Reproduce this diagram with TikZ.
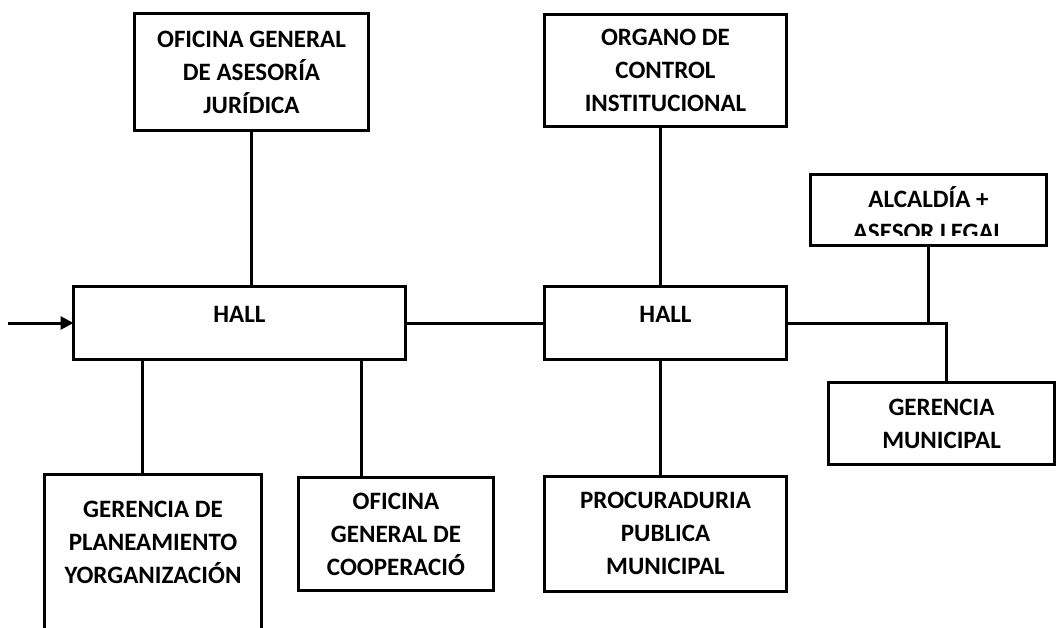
\documentclass[tikz,border=0pt]{standalone}
\usepackage{fontspec}
\setmainfont{Carlito}
\usetikzlibrary{arrows.meta}
\begin{document}
\begin{tikzpicture}[x=1pt,y=-1pt,
  every node/.style={inner sep=0pt,outer sep=0pt},
  boxstyle/.style={draw,line width=3pt,align=center,
    font=\fontsize{25}{33}\selectfont\bfseries},
  plain/.style={align=center,font=\fontsize{25}{33}\selectfont\bfseries},
  conn/.style={line width=3pt,line join=miter}]
\useasboundingbox[fill=white] (0,0) rectangle (1056,627);
% boxes
\node[boxstyle,minimum width=234pt,minimum height=117pt] (ofi) at (251.5,72)
  {OFICINA GENERAL\\DE ASESORÍA\\JURÍDICA};
\node[boxstyle,minimum width=242pt,minimum height=112pt] (org) at (665.5,70.5)
  {ORGANO DE\\CONTROL\\INSTITUCIONAL};
\node[boxstyle,minimum width=332pt,minimum height=73pt,text depth=17pt] (hallA) at (239.5,323) {HALL};
\node[boxstyle,minimum width=242pt,minimum height=73pt,text depth=17pt] (hallB) at (665.5,323) {HALL};
\node[boxstyle,minimum width=226pt,minimum height=82pt] (gm) at (941.5,423.5)
  {GERENCIA\\MUNICIPAL};
\node[boxstyle,minimum width=195pt,minimum height=113pt] (coop) at (396,534)
  {OFICINA\\GENERAL DE\\COOPERACIÓ};
\node[boxstyle,minimum width=242pt,minimum height=115pt] (proc) at (665.5,533.5)
  {PROCURADURIA\\PUBLICA\\MUNICIPAL};
% open-bottom box
\node[plain,minimum width=217pt,minimum height=135pt] (plan) at (153,542)
  {GERENCIA DE\\PLANEAMIENTO\\YORGANIZACIÓN};
\coordinate (bottomedge) at (0,630);
\draw[conn] (plan.north west |- bottomedge) -- (plan.north west) -- (plan.north east) -- (plan.north east |- bottomedge);
% clipped box
\begin{scope}
  \clip (810,176) rectangle (1047,235);
  \node[plain] (alctext) at (928.5,214) {ALCALDÍA +\\ASESOR LEGAL};
\end{scope}
\node[draw,line width=3pt,minimum width=236pt,minimum height=71pt] (alc) at (928.5,210) {};
% connectors
\coordinate (start) at (8,323);
\draw[conn,-{Triangle[length=13pt,width=13pt]}] (start) -- (hallA.west);
\draw[conn] (ofi.south) -- (ofi.south |- hallA.north);
\draw[conn] ([xshift=-5.5pt]org.south) -- ([xshift=-5.5pt]org.south |- hallB.north);
\draw[conn] (hallA.east) -- (hallB.west);
\draw[conn] ([xshift=-11pt]plan.north) -- ([xshift=-11pt]plan.north |- hallA.south);
\draw[conn] ([xshift=-35pt]coop.north) -- ([xshift=-35pt]coop.north |- hallA.south);
\draw[conn] ([xshift=-5.5pt]proc.north) -- ([xshift=-5.5pt]proc.north |- hallB.south);
\draw[conn] (hallB.east) -| ([xshift=4.5pt]gm.north);
\draw[conn] (alc.south) -- (alc.south |- hallB.east);
\end{tikzpicture}
\end{document}
